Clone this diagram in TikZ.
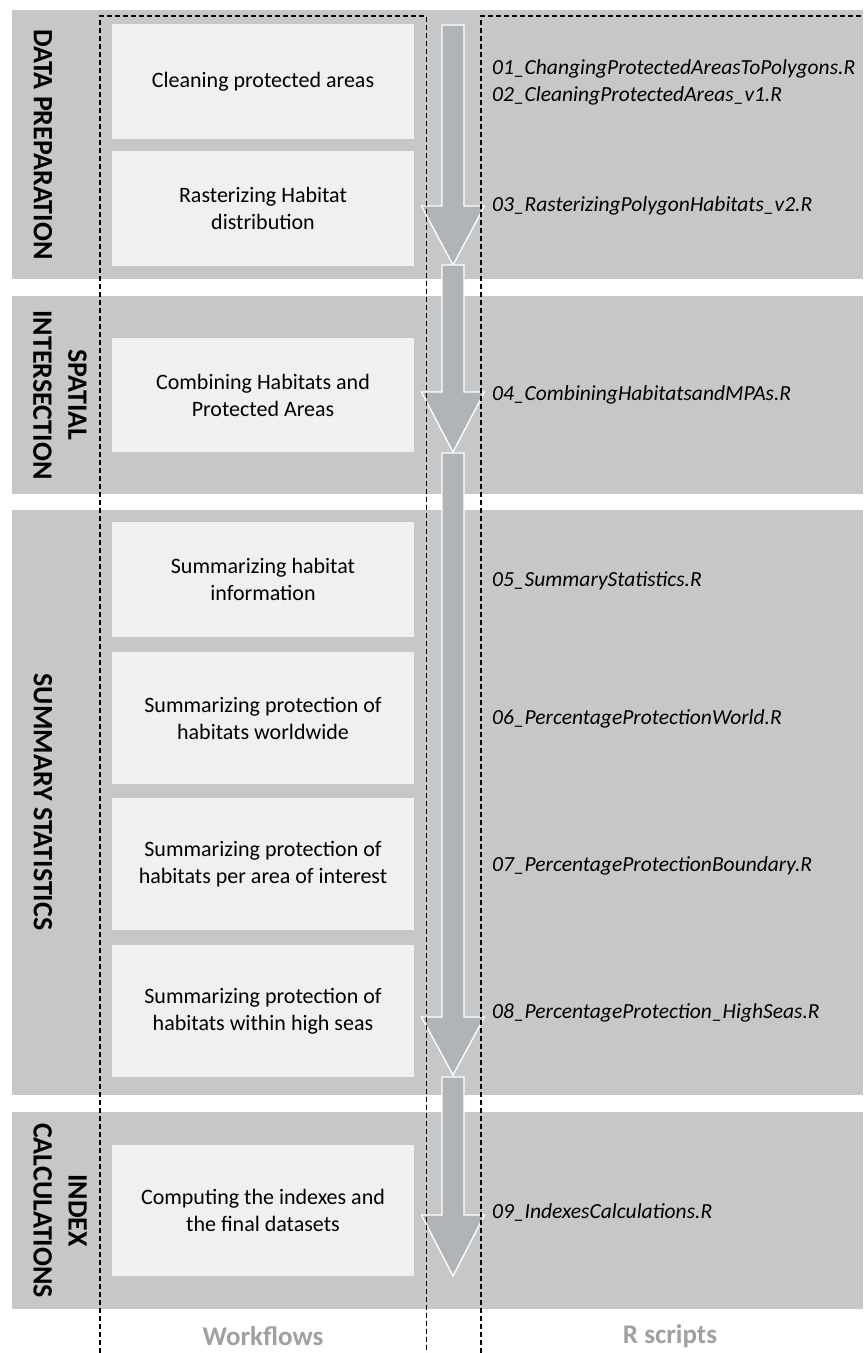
\documentclass[tikz,border=0pt]{standalone}
\usepackage{fontspec}
\setmainfont{Carlito}
\usetikzlibrary{positioning}

\definecolor{bandgray}{HTML}{C6C7C9}
\definecolor{boxgray}{HTML}{F0F0F0}
\definecolor{arrowgray}{HTML}{B1B4B7}
\definecolor{labelgray}{HTML}{A0A0A0}

\tikzset{
  band/.style={fill=bandgray},
  stepbox/.style={fill=boxgray, inner sep=0pt, minimum width=302pt, align=center, font=\fontsize{22}{27}\selectfont},
  script/.style={anchor=west, inner sep=0pt, font=\itshape\fontsize{21.5}{26}\selectfont},
  phase/.style={rotate=-90, align=center, inner sep=0pt, font=\bfseries\fontsize{28}{35}\selectfont},
  guide/.style={dash pattern=on 5pt off 3pt, line width=1.1pt},
  flow/.style={fill=arrowgray, draw=white, line width=1.3pt, line join=miter},
  column/.style={inner sep=0pt, text=labelgray, font=\bfseries\fontsize{27}{32}\selectfont}
}

% block arrow: shaft top, head top, tip
\newcommand{\flowarrow}[3]{%
  \draw[flow] (442,#1) -- (464,#1) -- (464,#2) -- (484.5,#2) -- (453,#3) -- (421.5,#2) -- (442,#2) -- cycle;
}

\begin{document}
\begin{tikzpicture}[x=1pt, y=-1pt]
  \useasboundingbox (0,0) rectangle (863,1353);

  % phases
  \fill[band] (12,10) rectangle (863,279);
  \fill[band] (12,296) rectangle (863,494);
  \fill[band] (12,510) rectangle (863,1095);
  \fill[band] (12,1112) rectangle (863,1309);

  \node[phase] (prep) at (43,144.5) {DATA PREPARATION};
  \node[phase] (spatial) at (60,395) {SPATIAL\\INTERSECTION};
  \node[phase] (summary) at (43,802) {SUMMARY STATISTICS};
  \node[phase] (indexcalc) at (60,1210.5) {INDEX\\CALCULATIONS};

  % workflow steps
  \node[stepbox, minimum height=115pt] (clean) at (263,81.5) {Cleaning protected areas};
  \node[stepbox, minimum height=115pt] (raster) at (263,208.5) {Rasterizing Habitat\\distribution};
  \node[stepbox, minimum height=114pt] (combine) at (263,395) {Combining Habitats and\\Protected Areas};
  \node[stepbox, minimum height=115pt] (sumhab) at (263,579.5) {Summarizing habitat\\information};
  \node[stepbox, minimum height=132pt] (sumworld) at (263,718) {Summarizing protection of\\habitats worldwide};
  \node[stepbox, minimum height=132pt] (sumarea) at (263,864) {Summarizing protection of\\habitats per area of interest};
  \node[stepbox, minimum height=132pt] (sumseas) at (263,1011) {Summarizing protection of\\habitats within high seas};
  \node[stepbox, minimum height=131pt] (index) at (263,1210.5) {Computing the indexes and\\the final datasets};

  \flowarrow{25}{206}{265}
  \flowarrow{265}{392}{452}
  \flowarrow{453}{1017}{1075}
  \flowarrow{1077}{1215}{1276}

  % scripts
  \node[script] (s01) at (492,69) {01\_ChangingProtectedAreasToPolygons.R};
  \node[script] (s02) at (492,96) {02\_CleaningProtectedAreas\_v1.R};
  \node[script] (s03) at (492,206) {03\_RasterizingPolygonHabitats\_v2.R};
  \node[script] (s04) at (492,395) {04\_CombiningHabitatsandMPAs.R};
  \node[script] (s05) at (492,581) {05\_SummaryStatistics.R};
  \node[script] (s06) at (492,719) {06\_PercentageProtectionWorld.R};
  \node[script] (s07) at (492,866) {07\_PercentageProtectionBoundary.R};
  \node[script] (s08) at (492,1013) {08\_PercentageProtection\_HighSeas.R};
  \node[script] (s09) at (492,1212) {09\_IndexesCalculations.R};

  % columns
  \draw[guide] (100,1353) -- (100,16) -- (426.5,16) -- (426.5,1353);
  \draw[guide] (481,1353) -- (481,16) -- (863,16);

  \node[column] (wf) at (263,1336) {Workflows};
  \node[column] (rs) at (670,1336) {R scripts};
\end{tikzpicture}
\end{document}
